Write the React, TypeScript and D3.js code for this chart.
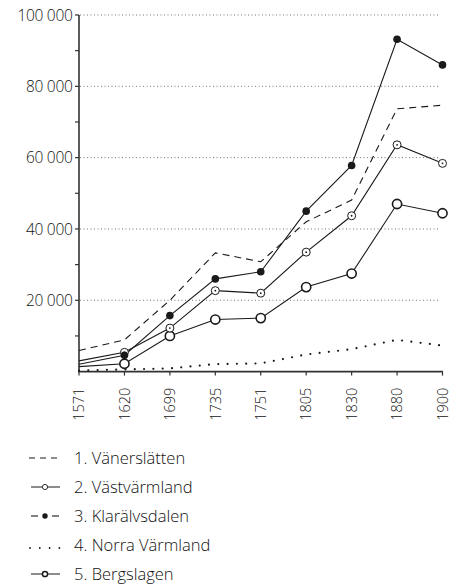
import React from "react";
import * as d3 from "d3";

const years = ["1571", "1620", "1699", "1735", "1751", "1805", "1830", "1880", "1900"];
const vanerslatten = [5900, 8900, 20000, 33300, 30800, 42000, 48100, 73700, 74700];
const vastvarmland = [3000, 5400, 12200, 22700, 22000, 33500, 43700, 63600, 58400];
const klaralvsdalen = [2050, 4600, 15700, 26000, 28000, 45000, 57800, 93200, 86000];
const norraVarmland = [300, 600, 900, 2100, 2300, 4800, 6300, 8900, 7300];
const bergslagen = [1400, 2200, 10000, 14600, 15000, 23700, 27500, 47000, 44400];
const yTicks = [20000, 40000, 60000, 80000, 100000];
const yMinorTicks = [10000, 20000, 30000, 40000, 50000, 60000, 70000, 80000, 90000, 100000];
const legendLabels = ["1. Vänerslätten", "2. Västvärmland", "3. Klarälvsdalen", "4. Norra Värmland", "5. Bergslagen"];

const FONT = "'Open Sans', sans-serif";
const INK = "#1a1a1a";
const TXT = "#111";

export default function App() {
  const x = d3.scalePoint<string>().domain(years).range([79, 442.5]);
  const y = d3.scaleLinear().domain([0, 100000]).range([371.6, 15]);
  const line = d3
    .line<number>()
    .x((_, i) => x(years[i]) as number)
    .y((d) => y(d));
  const fmt = (v: number) => d3.format(",")(v).replace(",", " ");

  const pts = (vals: number[]) => vals.map((v, i) => ({ cx: x(years[i]) as number, cy: y(v) }));

  return (
    <svg width={464} height={586} style={{ position: "absolute", left: 0, top: 0 }}>
      <rect width={464} height={586} fill="#fff" />
      {/* grid */}
      {yTicks.map((t) => (
        <line key={t} x1={80} x2={440} y1={y(t)} y2={y(t)} stroke="#777" strokeWidth={1} strokeDasharray="1,2.5" />
      ))}
      {/* y axis */}
      <line x1={79} x2={79} y1={y(100000)} y2={y(0)} stroke="#333" strokeWidth={1.6} />
      {yMinorTicks.map((t) => (
        <line key={t} x1={75} x2={79} y1={y(t)} y2={y(t)} stroke="#333" strokeWidth={1.2} />
      ))}
      {yTicks.map((t) => (
        <text key={t} x={72.5} y={y(t)} dy="0.36em" textAnchor="end" fontFamily={FONT} fontSize={15.5} fill={TXT} fontWeight={300} letterSpacing={-0.3}>
          {fmt(t)}
        </text>
      ))}
      {/* x axis */}
      <line x1={78} x2={443} y1={y(0)} y2={y(0)} stroke="#333" strokeWidth={1.6} />
      {years.map((yr) => (
        <g key={yr}>
          <line x1={x(yr)} x2={x(yr)} y1={y(0)} y2={y(0) + 4} stroke="#333" strokeWidth={1.2} />
          <text
            transform={`translate(${x(yr)},${y(0) + 16}) rotate(-90)`}
            dy="0.36em"
            textAnchor="end"
            fontFamily={FONT}
            fontSize={14.5}
            fill={TXT}
            fontWeight={300}
          >
            {yr}
          </text>
        </g>
      ))}
      {/* series */}
      <path d={line(vanerslatten) || ""} fill="none" stroke={INK} strokeWidth={1.1} strokeDasharray="7,5" />
      <path d={line(norraVarmland) || ""} fill="none" stroke={INK} strokeWidth={2.2} strokeDasharray="0,9.3" strokeLinecap="round" />
      <path d={line(bergslagen) || ""} fill="none" stroke={INK} strokeWidth={1.1} />
      <path d={line(vastvarmland) || ""} fill="none" stroke={INK} strokeWidth={1.1} />
      <path d={line(klaralvsdalen) || ""} fill="none" stroke={INK} strokeWidth={1.1} />
      {pts(bergslagen).slice(1).map((p, i) => (
        <circle key={i} cx={p.cx} cy={p.cy} r={4.6} fill="#fff" stroke={INK} strokeWidth={1.6} />
      ))}
      {pts(vastvarmland).slice(1).map((p, i) => (
        <g key={i}>
          <circle cx={p.cx} cy={p.cy} r={4} fill="#fff" stroke={INK} strokeWidth={1} />
          <circle cx={p.cx} cy={p.cy} r={0.9} fill={INK} />
        </g>
      ))}
      {pts(klaralvsdalen).slice(1).map((p, i) => (
        <circle key={i} cx={p.cx} cy={p.cy} r={3.8} fill={INK} />
      ))}
      {/* legend */}
      {legendLabels.map((lab, i) => {
        const cy = 458 + i * 29;
        return (
          <g key={lab}>
            {i === 0 && <line x1={29} x2={60} y1={cy} y2={cy} stroke={INK} strokeWidth={1} strokeDasharray="6,5" />}
            {i === 1 && (
              <g>
                <line x1={31} x2={60} y1={cy} y2={cy} stroke={INK} strokeWidth={1} />
                <circle cx={45} cy={cy} r={2.6} fill="#fff" stroke={INK} strokeWidth={0.9} />
              </g>
            )}
            {i === 2 && (
              <g>
                <line x1={31} x2={38} y1={cy} y2={cy} stroke={INK} strokeWidth={1.1} />
                <line x1={52} x2={59} y1={cy} y2={cy} stroke={INK} strokeWidth={1.1} />
                <circle cx={45} cy={cy} r={2.7} fill={INK} />
              </g>
            )}
            {i === 3 && (
              <line x1={30} x2={60} y1={cy + 3} y2={cy + 3} stroke={INK} strokeWidth={1.8} strokeDasharray="0,9.8" strokeLinecap="round" />
            )}
            {i === 4 && (
              <g>
                <line x1={31} x2={60} y1={cy} y2={cy} stroke={INK} strokeWidth={1} />
                <circle cx={45} cy={cy} r={2.6} fill="#fff" stroke={INK} strokeWidth={1.5} />
              </g>
            )}
            <text x={74} y={cy} dy="0.36em" fontFamily={FONT} fontSize={16.5} fontWeight={300} fill={TXT}>
              {lab}
            </text>
          </g>
        );
      })}
    </svg>
  );
}
